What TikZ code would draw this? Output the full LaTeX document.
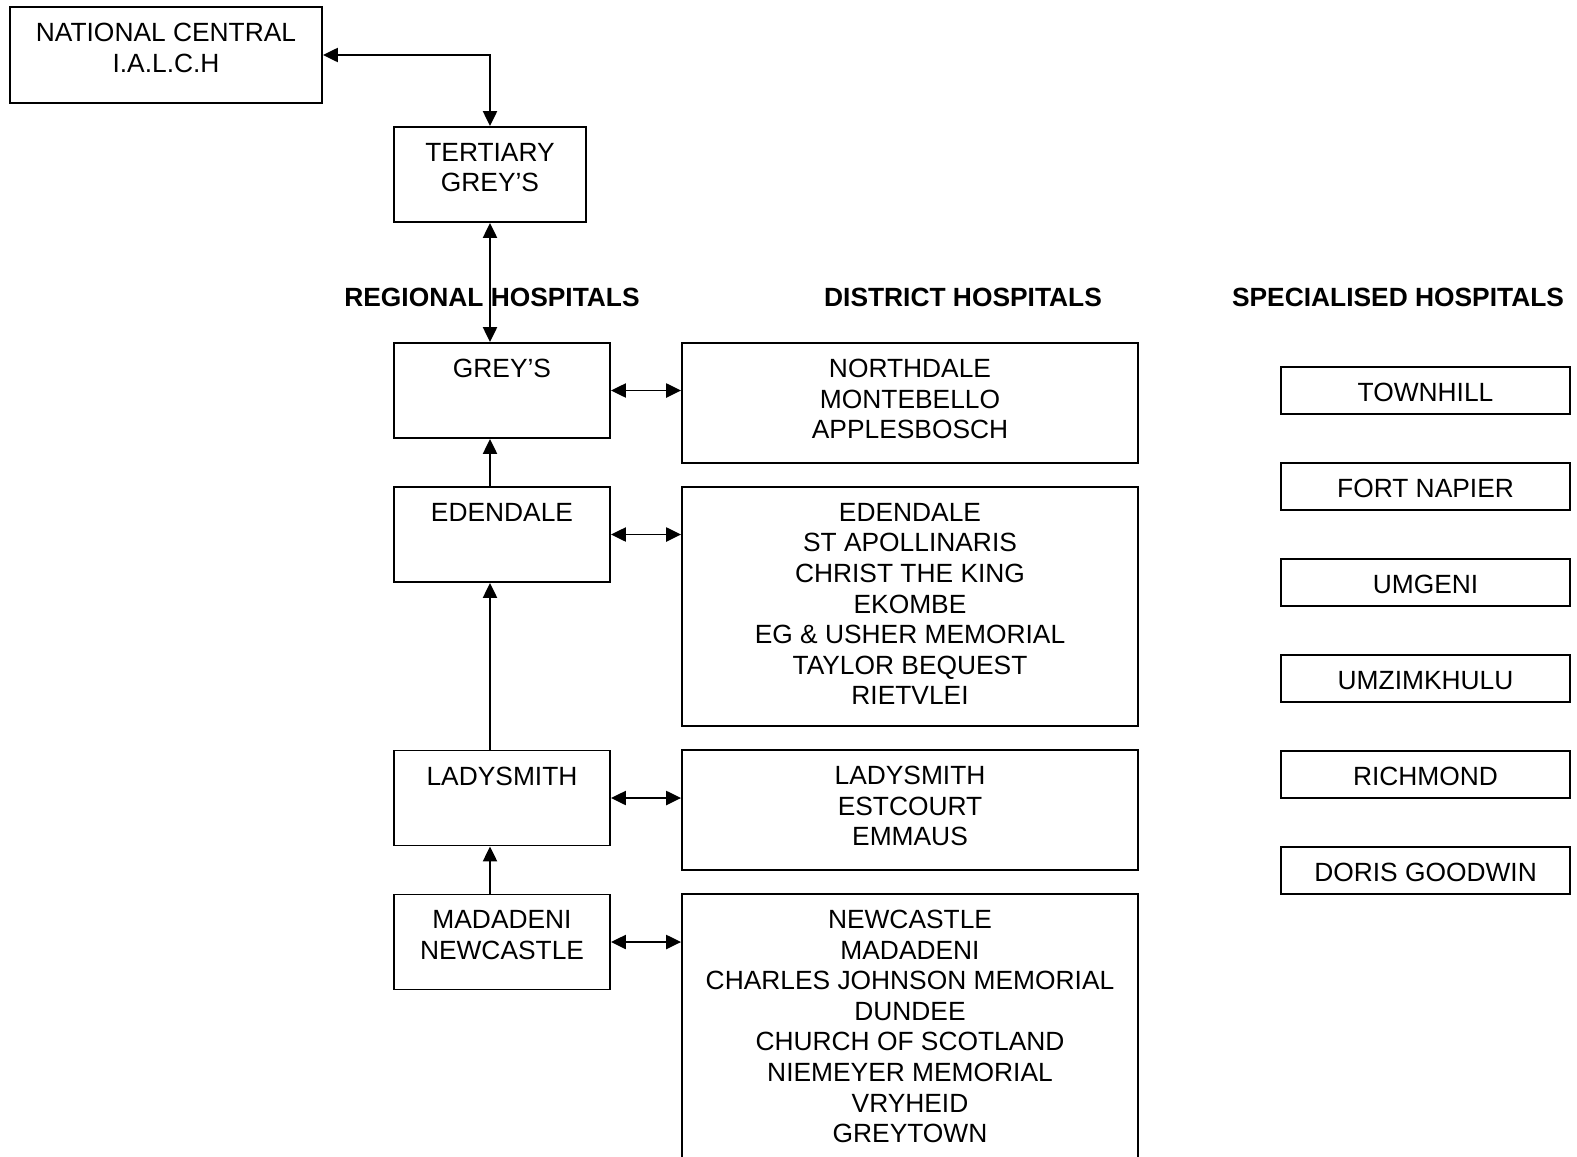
\documentclass[tikz,border=0pt]{standalone}
\usepackage{fontspec}
\setmainfont{Liberation Sans}
\usetikzlibrary{arrows.meta,positioning}
\tikzset{
  hbox/.style = {draw=black, line width=1.1pt, rectangle, inner sep=0pt},
  toplabel/.style = {label={[anchor=north, yshift=-9.6pt, inner sep=0pt, align=center,
    font=\fontsize{15}{17.4}\selectfont]north:#1}},
  regbox/.style = {hbox, minimum width=4.32cm, minimum height=1.9cm},
  distbox/.style = {hbox, minimum width=9.12cm},
  specbox/.style = {hbox, minimum width=5.78cm, minimum height=0.94cm},
  head/.style = {font=\fontsize{15}{17.4}\selectfont\bfseries, inner sep=0pt},
  link/.style = {line width=1.1pt, -{Triangle[length=8.5pt,width=8pt]}},
  dlink/.style = {line width=1.1pt, {Triangle[length=8.5pt,width=8pt]}-{Triangle[length=8.5pt,width=8pt]}},
}
\begin{document}
\begin{tikzpicture}[x=0.02cm, y=-0.02cm]
\clip (0,0) rectangle (1577,1156);

\node [hbox, minimum width=6.24cm, minimum height=1.92cm, toplabel={NATIONAL CENTRAL\\I.A.L.C.H}] (nat) at (166,55) {};
\node [hbox, minimum width=3.84cm, minimum height=1.9cm, toplabel={TERTIARY\\GREY’S}] (tert) at (490,174.5) {};

\node [head] (hreg) at (492,297) {REGIONAL HOSPITALS};
\node [head] (hdist) at (963,297) {DISTRICT HOSPITALS};
\node [head] (hspec) at (1398,297) {SPECIALISED HOSPITALS};

% regional
\node [regbox, toplabel={GREY’S}] (rgrey) at (502,390.5) {};
\node [regbox, toplabel={EDENDALE}] (reden) at (502,534.5) {};
\node [regbox, toplabel={LADYSMITH}] (rlady) at (502,798) {};
\node [regbox, toplabel={MADADENI\\NEWCASTLE}] (rmad) at (502,942) {};

% district
\node [distbox, minimum height=2.4cm, toplabel={NORTHDALE\\MONTEBELLO\\APPLESBOSCH}] (dnorth) at (910,403) {};
\node [distbox, minimum height=4.78cm, toplabel={EDENDALE\\ST APOLLINARIS\\CHRIST THE KING\\EKOMBE\\EG \& USHER MEMORIAL\\TAYLOR BEQUEST\\RIETVLEI}] (deden) at (910,606.5) {};
\node [distbox, minimum height=2.4cm, toplabel={LADYSMITH\\ESTCOURT\\EMMAUS}] (dlady) at (910,810) {};
\node [distbox, minimum height=5.32cm, toplabel={NEWCASTLE\\MADADENI\\CHARLES JOHNSON MEMORIAL\\DUNDEE\\CHURCH OF SCOTLAND\\NIEMEYER MEMORIAL\\VRYHEID\\GREYTOWN}] (dnew) at (910,1027) {};

% specialised
\foreach \name/\txt [count=\i from 0] in {stown/TOWNHILL, sfort/FORT NAPIER, sumg/UMGENI, sumz/UMZIMKHULU, srich/RICHMOND, sdoris/DORIS GOODWIN}
  \node [specbox, toplabel=\txt] (\name) at (1425.5,390.5+96*\i) {};

\draw [dlink] (nat.east) -| (tert.north);
\draw [dlink] (tert.south) -- (rgrey.north -| tert.south);
\draw [link] (reden.north -| tert.south) -- (rgrey.south -| tert.south);
\draw [link] (rlady.north -| tert.south) -- (reden.south -| tert.south);
\draw [link] (rmad.north -| tert.south) -- (rlady.south -| tert.south);

\draw [dlink] (rgrey.east) -- (rgrey.east -| dnorth.west);
\draw [dlink] (reden.east) -- (reden.east -| deden.west);
\draw [dlink] (rlady.east) -- (rlady.east -| dlady.west);
\draw [dlink] (rmad.east) -- (rmad.east -| dnew.west);
\end{tikzpicture}
\end{document}
